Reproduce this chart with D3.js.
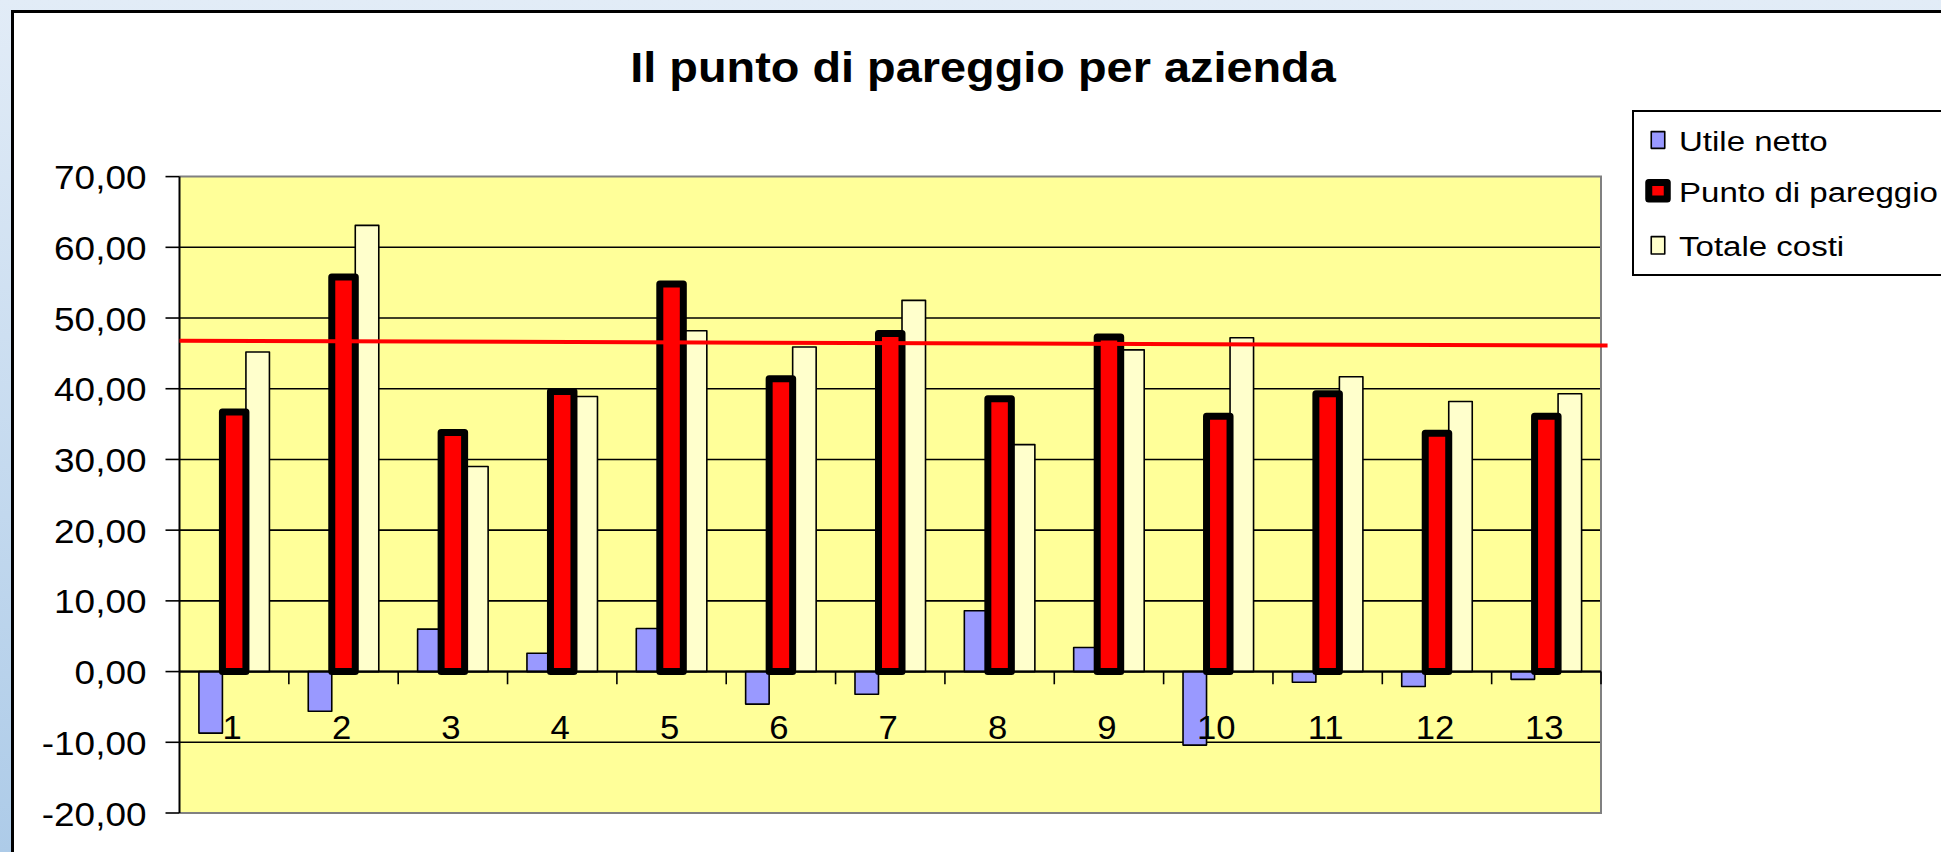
<!DOCTYPE html>
<html>
<head>
<meta charset="utf-8">
<script src="https://cdn.jsdelivr.net/npm/d3@7"></script>
<style>
  body { margin: 0; overflow: hidden; }
  text { font-family: "Liberation Sans", Arial, sans-serif; fill: #000; }
</style>
</head>
<body>
<svg width="1941" height="852"></svg>
<script>
// chart values
const categories = ["1", "2", "3", "4", "5", "6", "7", "8", "9", "10", "11", "12", "13"];
const utileNetto = [-8.7, -5.6, 6.0, 2.6, 6.1, -4.6, -3.2, 8.6, 3.4, -10.4, -1.5, -2.1, -1.1];
const puntoPareggio = [36.7, 55.8, 33.8, 39.6, 54.8, 41.4, 47.8, 38.6, 47.3, 36.1, 39.3, 33.7, 36.1];
const totaleCosti = [45.2, 63.1, 29.0, 38.9, 48.2, 45.9, 52.5, 32.1, 45.5, 47.2, 41.7, 38.2, 39.3];
const yTicks = [-20, -10, 0, 10, 20, 30, 40, 50, 60, 70];
const seriesNames = ["Utile netto", "Punto di pareggio", "Totale costi"];
// red reference line drawn over the plot (start / end)
const refLine = [{ pos: 0, value: 46.8 }, { pos: 13.06, value: 46.1 }];

const svg = d3.select("svg");

// background outside the chart frame
const defs = svg.append("defs");
const grad = defs.append("linearGradient").attr("id", "bg")
    .attr("x1", 0).attr("y1", 0).attr("x2", 0).attr("y2", 1);
grad.append("stop").attr("offset", "0%").attr("stop-color", "#e2ecf7");
grad.append("stop").attr("offset", "100%").attr("stop-color", "#adcbe8");
svg.append("rect").attr("width", 1941).attr("height", 852).attr("fill", "url(#bg)");

// chart frame
svg.append("rect")
    .attr("x", 12.5).attr("y", 11.5).attr("width", 2000).attr("height", 1000)
    .attr("fill", "#fff").attr("stroke", "#000").attr("stroke-width", 3);

const plot = { left: 179.5, right: 1601, top: 176.6, bottom: 813 };

const x = d3.scaleBand().domain(categories).range([plot.left, plot.right]).padding(0);
const y = d3.scaleLinear().domain([-20, 70]).range([plot.bottom, plot.top]);
const groupW = x.bandwidth() * 0.645;
const x1 = d3.scaleBand().domain(seriesNames)
    .range([(x.bandwidth() - groupW) / 2, (x.bandwidth() + groupW) / 2]);
const fmt = d3.formatLocale({ decimal: ",", thousands: ".", grouping: [3], currency: ["€", ""], minus: "-" }).format(".2f");

// helper for horizontally stretched text (Excel rendering is a bit wide)
function label(g, tx, ty, str, size, sx, anchor, weight) {
    return g.append("text")
        .attr("transform", `translate(${tx},${ty}) scale(${sx},1)`)
        .attr("text-anchor", anchor)
        .style("font-size", size + "px")
        .style("font-weight", weight || "normal")
        .text(str);
}

// title
label(svg, 983, 82, "Il punto di pareggio per azienda", 43, 1.09, "middle", "bold");

// plot background
svg.append("rect")
    .attr("x", plot.left).attr("y", plot.top)
    .attr("width", plot.right - plot.left).attr("height", plot.bottom - plot.top)
    .attr("fill", "#ffff99");

// gridlines
svg.append("g").selectAll("line")
    .data(yTicks.filter(d => d > -20 && d < 70))
    .enter().append("line")
    .attr("x1", plot.left).attr("x2", plot.right)
    .attr("y1", d => y(d)).attr("y2", d => y(d))
    .attr("stroke", "#000").attr("stroke-width", 1.6);

// gray top/right/bottom border of plot
svg.append("path")
    .attr("d", `M${plot.left},${plot.top}H${plot.right}V${plot.bottom}H${plot.left}`)
    .attr("fill", "none").attr("stroke", "#808080").attr("stroke-width", 2);

// bars
const groups = svg.append("g").selectAll("g")
    .data(categories)
    .enter().append("g")
    .attr("transform", d => `translate(${x(d)},0)`);

function bars(values, name, fill, sw) {
    groups.append("rect")
        .attr("x", x1(name))
        .attr("width", x1.bandwidth())
        .attr("y", (d, i) => y(Math.max(0, values[i])))
        .attr("height", (d, i) => Math.abs(y(values[i]) - y(0)))
        .attr("fill", fill)
        .attr("stroke", "#000")
        .attr("stroke-width", sw)
        .attr("stroke-linejoin", "round");
}
bars(utileNetto, "Utile netto", "#9999ff", 1.6);
bars(totaleCosti, "Totale costi", "#ffffcc", 1.6);
bars(puntoPareggio, "Punto di pareggio", "#ff0000", 7);

// y axis line + ticks + labels
svg.append("line")
    .attr("x1", plot.left).attr("x2", plot.left)
    .attr("y1", plot.top).attr("y2", plot.bottom)
    .attr("stroke", "#000").attr("stroke-width", 2);
svg.append("g").selectAll("line")
    .data(yTicks).enter().append("line")
    .attr("x1", plot.left - 14).attr("x2", plot.left)
    .attr("y1", d => y(d)).attr("y2", d => y(d))
    .attr("stroke", "#000").attr("stroke-width", 1.6);
const yl = svg.append("g");
yTicks.forEach(d => label(yl, 146.5, y(d) + 12.5, fmt(d), 33, 1.12, "end"));

// category axis at zero
svg.append("line")
    .attr("x1", plot.left).attr("x2", plot.right)
    .attr("y1", y(0)).attr("y2", y(0))
    .attr("stroke", "#000").attr("stroke-width", 2);
svg.append("g").selectAll("line")
    .data(categories).enter().append("line")
    .attr("x1", d => x(d) + x.bandwidth()).attr("x2", d => x(d) + x.bandwidth())
    .attr("y1", y(0)).attr("y2", y(0) + 12.7)
    .attr("stroke", "#000").attr("stroke-width", 1.6);
const xl = svg.append("g");
categories.forEach(d => label(xl, x(d) + x.bandwidth() / 2 - 2, 739, d, 33, 1.05, "middle"));

// red reference line
const xPos = d3.scaleLinear().domain([0, categories.length]).range([plot.left, plot.right]);
svg.append("path")
    .datum(refLine)
    .attr("d", d3.line().x(d => xPos(d.pos)).y(d => y(d.value)))
    .attr("fill", "none").attr("stroke", "#ff0000").attr("stroke-width", 4);

// legend
const lg = svg.append("g");
lg.append("rect")
    .attr("x", 1633).attr("y", 111).attr("width", 400).attr("height", 164)
    .attr("fill", "#fff").attr("stroke", "#000").attr("stroke-width", 2);
const rowY = [140, 190.7, 245.3];
const swatch = [
    { fill: "#9999ff", sw: 1.6, w: 13.5, h: 16.7 },
    { fill: "#ff0000", sw: 7, w: 18.5, h: 16.5 },
    { fill: "#ffffcc", sw: 1.6, w: 13.5, h: 17.3 }
];
seriesNames.forEach((name, i) => {
    const s = swatch[i];
    lg.append("rect")
        .attr("x", 1658 - s.w / 2).attr("y", rowY[i] - s.h / 2)
        .attr("width", s.w).attr("height", s.h)
        .attr("fill", s.fill).attr("stroke", "#000").attr("stroke-width", s.sw)
        .attr("stroke-linejoin", "round");
    label(lg, 1679, rowY[i] + 11, name, 28, 1.18, "start");
});
</script>
</body>
</html>
